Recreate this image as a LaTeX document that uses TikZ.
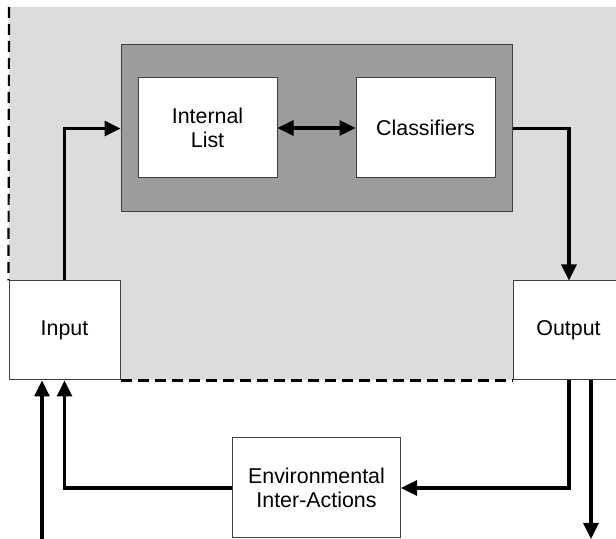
\documentclass[tikz,border=0pt]{standalone}
\usepackage{fontspec}
\setmainfont{Liberation Sans}
\usetikzlibrary{arrows.meta,calc,positioning}
\definecolor{lightarea}{HTML}{DCDCDC}
\definecolor{darkarea}{HTML}{9C9C9C}
\tikzset{%
  >={Triangle[width=7.5pt,length=8pt]},
  % Specifications for style of nodes:
            box/.style = {rectangle, draw=black!75, line width=0.5pt, fill=white,
                          inner sep=0pt, text centered, align=center,
                          font=\fontsize{10.7}{12}\selectfont},
            flow/.style = {line width=1.6pt, ->},
            border/.style = {line width=1.1pt, dash pattern=on 5.5pt off 3pt}
                           }

\begin{document}
\begin{tikzpicture}[x=0.5pt, y=-0.5pt]
                    \useasboundingbox (0,0) rectangle (616,539);
                    \clip (0,0) rectangle (616,539);
                    \fill[lightarea] (9,7) rectangle (620,380);

                    \node (inner)       [box, fill=darkarea, minimum width=195.5pt, minimum height=83.5pt] at (316.5,128.5) {};
                    \node (list)        [box, minimum width=69.5pt, minimum height=50pt] at (207.5,128) {Internal\\List};
                    \node (classifiers) [box, minimum width=69.5pt, minimum height=50pt] at (425.5,128) {Classifiers};
                    \node (input)       [box, minimum width=55.5pt, minimum height=49.5pt] at (64.5,330.5) {Input};
                    \node (output)      [box, minimum width=55pt, minimum height=49.5pt, anchor=west] at (513,330.5) {Output};
                    \node (env)         [box, minimum width=84pt, minimum height=50pt] at (316.5,488) {Environmental\\Inter-Actions};
                    \coordinate (ext in)  at (42,539);
                    \coordinate (ext out) at (591,539);

                    \draw[border] (9,7) -- (input.north west);
                    \draw[border] (input.south east) -- (output.south west);

                    \draw[flow]     (input.north) |- (inner.west);
                    \draw[flow, <->] (list) -- (classifiers);
                    \draw[flow]     (inner.east) -| ($(output.north west)+(56,0)$);
                    \draw[flow]     ($(output.south west)+(56,0)$) |- (env.east);
                    \draw[flow]     (env.west) -| (input.south);
                    \draw[flow]     (ext in) -- (ext in |- input.south);
                    \draw[flow]     (ext out |- output.south) -- (ext out);
                \end{tikzpicture}
\end{document}
